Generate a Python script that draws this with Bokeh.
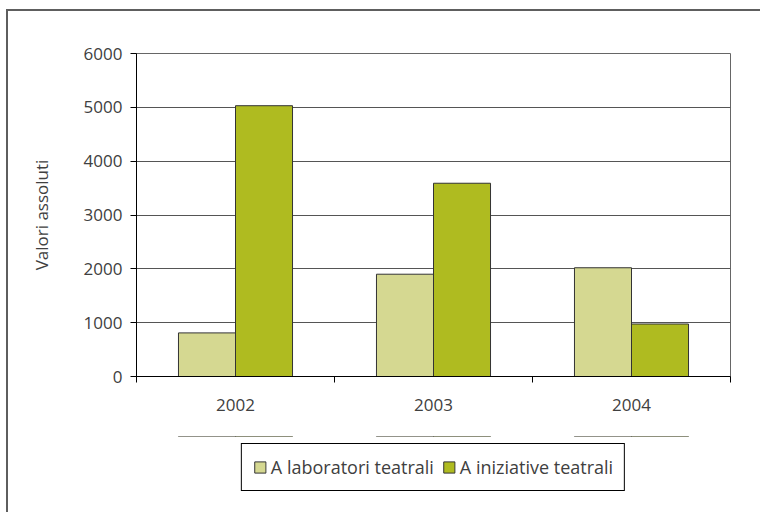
from bokeh.plotting import figure
from bokeh.layouts import column
from bokeh.models import Range1d, FixedTicker, Legend, LegendItem, ColumnDataSource
from bokeh.embed import file_html
from bokeh.resources import INLINE

years = ["2002", "2003", "2004"]
laboratori = [810, 1900, 2020]
iniziative = [5030, 3590, 975]
series_names = ["A laboratori teatrali", "A iniziative teatrali"]
y_ticks = [0, 1000, 2000, 3000, 4000, 5000, 6000]
y_title = "Valori assoluti"

col_lab = "#d5d891"
col_ini = "#afbb20"
txt_col = "#404040"
FONT = "Open Sans"
FS = "17px"
bar_w = 0.288

centers = [i + 0.5 for i in range(len(years))]
src = ColumnDataSource(dict(
    x_lab=[c - bar_w / 2 for c in centers],
    x_ini=[c + bar_w / 2 for c in centers],
    lab=laboratori,
    ini=iniziative,
))

p = figure(width=752, height=425, output_backend="svg", toolbar_location=None,
           x_range=Range1d(0, len(years)), y_range=Range1d(y_ticks[0], y_ticks[-1]),
           min_border_left=128, min_border_top=42, min_border_right=30,
           min_border_bottom=60)

r1 = p.vbar(x="x_lab", top="lab", width=bar_w, source=src, fill_color=col_lab,
            line_color="#333333", line_width=1)
r2 = p.vbar(x="x_ini", top="ini", width=bar_w, source=src, fill_color=col_ini,
            line_color="#333333", line_width=1)

p.outline_line_color = "#666666"
p.xgrid.visible = False
p.ygrid.grid_line_color = "#555555"
p.ygrid.grid_line_width = 1
p.ygrid.ticker = FixedTicker(ticks=y_ticks)

# y axis
ya = p.yaxis[0]
ya.ticker = FixedTicker(ticks=y_ticks)
ya.axis_line_color = "#000000"
ya.major_tick_line_color = "#000000"
ya.major_tick_out = 6
ya.major_tick_in = 0
ya.minor_tick_out = 0
ya.minor_tick_in = 0
ya.major_label_text_font = FONT
ya.major_label_text_font_size = FS
ya.major_label_text_color = txt_col
ya.major_label_standoff = 8
ya.axis_label = y_title
ya.axis_label_text_font = FONT
ya.axis_label_text_font_size = FS
ya.axis_label_text_font_style = "normal"
ya.axis_label_text_color = txt_col
ya.axis_label_standoff = 28

# x axis
xa = p.xaxis[0]
xa.ticker = FixedTicker(ticks=centers, minor_ticks=list(range(len(years) + 1)))
xa.major_label_overrides = {c: y for c, y in zip(centers, years)}
xa.axis_line_color = "#000000"
xa.major_tick_out = 0
xa.major_tick_in = 0
xa.minor_tick_line_color = "#000000"
xa.minor_tick_out = 6
xa.minor_tick_in = 0
xa.major_label_text_font = FONT
xa.major_label_text_font_size = FS
xa.major_label_text_color = txt_col
xa.major_label_standoff = 16

# legend strip (separate canvas under the chart so the legend is not clipped);
# its renderers share the data but the strip's y range keeps the bars far out of view
q = figure(width=752, height=76, output_backend="svg", toolbar_location=None,
           x_axis_type=None, y_axis_type=None,
           x_range=Range1d(0, len(years)), y_range=Range1d(-100, -99),
           min_border_left=128, min_border_right=30, min_border_top=0,
           min_border_bottom=15)
q.outline_line_color = None
q.grid.visible = False
l1 = q.vbar(x="x_lab", top="lab", width=bar_w, source=src, fill_color=col_lab,
            line_color="#333333", line_width=1)
l2 = q.vbar(x="x_ini", top="ini", width=bar_w, source=src, fill_color=col_ini,
            line_color="#333333", line_width=1)

legend = Legend(items=[LegendItem(label=series_names[0], renderers=[l1]),
                       LegendItem(label=series_names[1], renderers=[l2])],
                orientation="horizontal", location="center")
legend.border_line_color = "#000000"
legend.border_line_alpha = 1
legend.border_line_width = 1
legend.padding = 11
legend.spacing = 8
legend.label_standoff = 4
legend.glyph_width = 14
legend.glyph_height = 14
legend.label_text_font = FONT
legend.label_text_font_size = "18px"
legend.label_text_color = txt_col
legend.background_fill_alpha = 1
legend.margin = 0
q.add_layout(legend, "center")

lay = column(p, q, spacing=0)
lay.styles = {"border-left": "2px solid #5e5e5e", "border-top": "2px solid #5e5e5e",
              "margin-left": "6px", "margin-top": "9px"}

open("out.html", "w").write(file_html(lay, INLINE))
